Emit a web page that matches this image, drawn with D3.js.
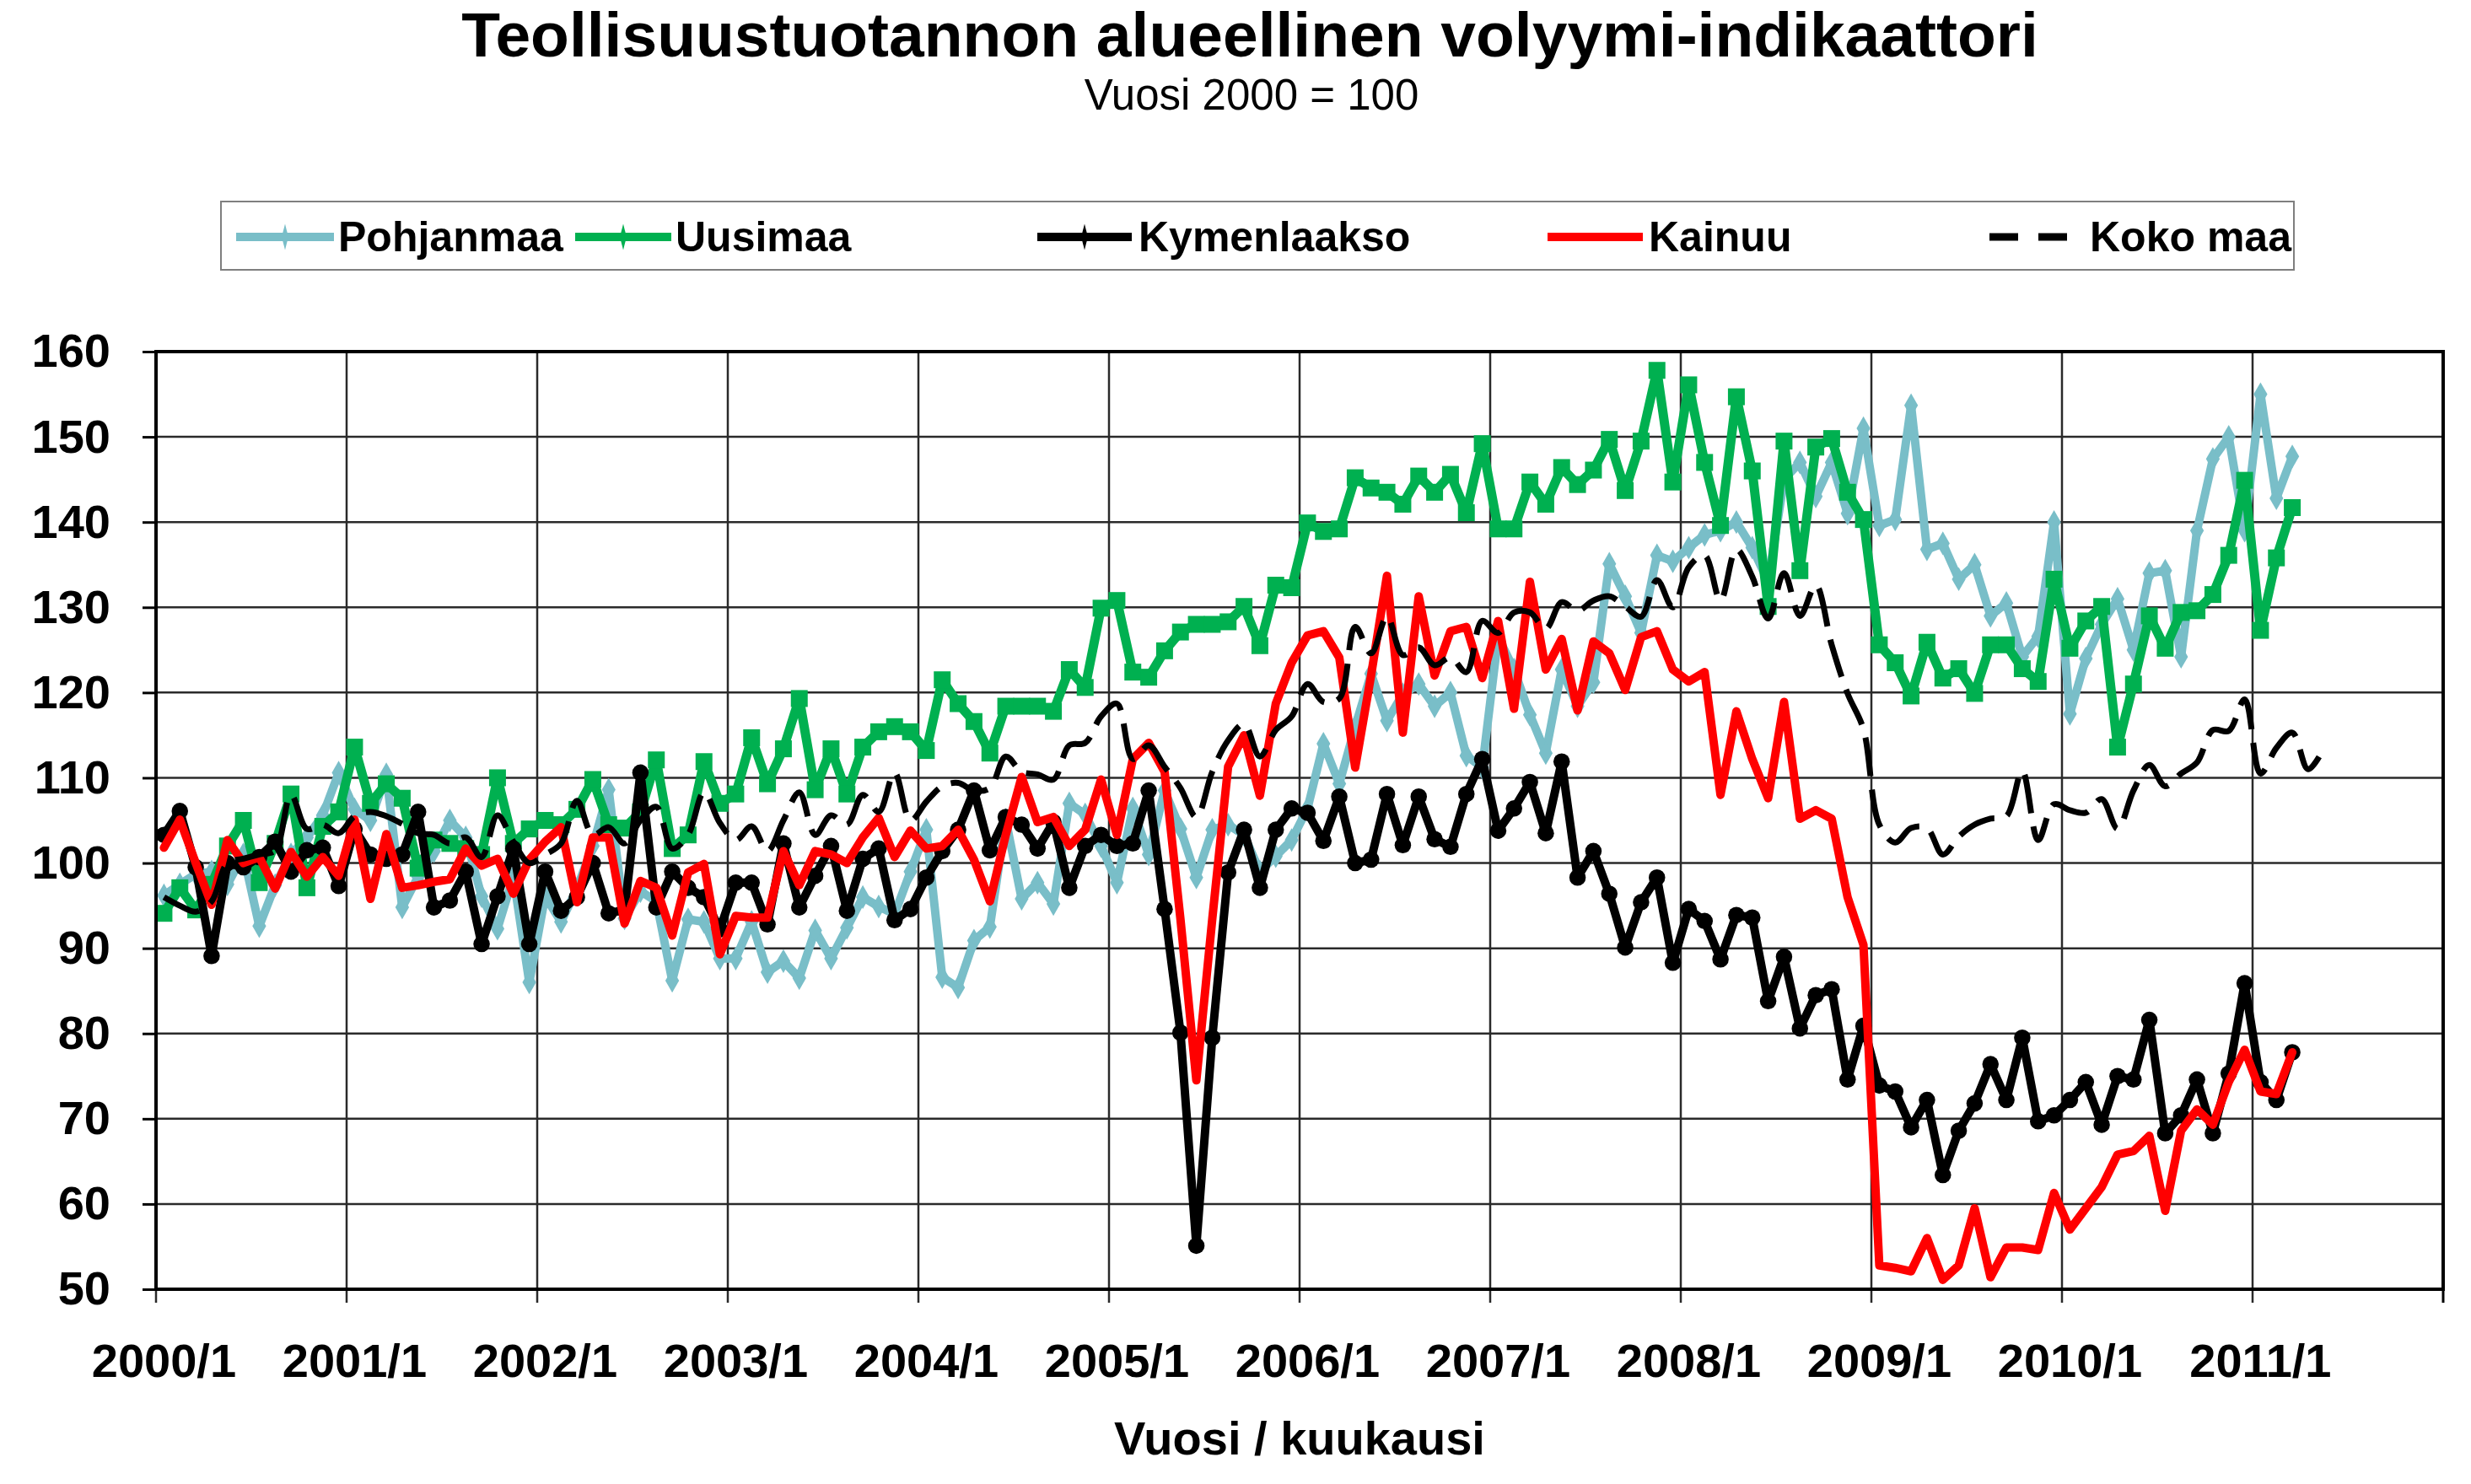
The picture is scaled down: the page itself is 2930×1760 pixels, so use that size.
<!DOCTYPE html>
<html>
<head>
<meta charset="utf-8">
<script src="https://cdn.jsdelivr.net/npm/d3@7"></script>
<style>
  body { margin: 0; background: #fff; }
  svg { display: block; font-family: "Liberation Sans", Arial, sans-serif; }
</style>
</head>
<body>
<svg id="chart" width="2930" height="1760"></svg>
<script>
// Categories: one per month, 2000/1 .. 2011/12
var years = [2000, 2001, 2002, 2003, 2004, 2005, 2006, 2007, 2008, 2009, 2010, 2011];
var months = [1, 2, 3, 4, 5, 6, 7, 8, 9, 10, 11, 12];
var categories = [];
years.forEach(function (y) { months.forEach(function (m) { categories.push(y + "/" + m); }); });

var yTicks = [50, 60, 70, 80, 90, 100, 110, 120, 130, 140, 150, 160];
var xTickLabels = ["2000/1", "2001/1", "2002/1", "2003/1", "2004/1", "2005/1",
	"2006/1", "2007/1", "2008/1", "2009/1", "2010/1", "2011/1"];

var pohjanmaa = [
	96.2, 97.5, 98.7, 99, 97.5, 101, 92.6, 97.4, 101, 103, 105.6, 110.6,
	106.3, 105, 110.4, 94.8, 98.4, 101.4, 105, 103, 96.1, 92.3, 98.4, 86,
	96.1, 93.1, 97, 102, 108.6, 93.5, 96.7, 95.5, 86.2, 93.4, 93.1, 88.8,
	88.8, 93.1, 87.2, 88.5, 86.5, 92.1, 88.8, 92.4, 96, 94.9, 94, 99,
	103.9, 86.6, 85.4, 90.9, 92.5, 105.1, 95.8, 97.7, 95.2, 107, 105.7, 102,
	97.7, 106.4, 101, 108.5, 104, 98.3, 103.9, 104.5, 103.3, 99, 100.8, 102.7,
	106.4, 114, 109.3, 116, 122.2, 116.7, 119.8, 121, 118.4, 120, 112.6, 111.2,
	126.5, 122.7, 117.4, 112.9, 122.7, 118.4, 121.2, 135.1, 131.3, 127, 136.1, 135.4,
	137, 138.5, 139, 140, 137, 133, 145, 147, 143, 147, 141, 151,
	139.6, 140.3, 153.7, 136.8, 137.5, 133.3, 135, 129, 130.5, 124.2, 126.6, 140,
	117.5, 124, 128, 131, 125, 134, 134.3, 124.2, 139, 147.4, 150, 139,
	155, 142.8, 147.7
];

var uusimaa = [
	94.1, 97.1, 94.5, 97.5, 102, 105, 97.7, 102.3, 108.1, 97.1, 104.3, 106,
	113.6, 107, 109.3, 107.6, 99.4, 102.7, 102.3, 101.7, 101, 110, 102.3, 104,
	105, 104.5, 106.3, 109.8, 104.5, 104.1, 106, 112.1, 101.7, 103.3, 111.9, 107,
	108.1, 114.7, 109.3, 113.4, 119.3, 108.6, 113.4, 108.1, 113.6, 115.4, 116, 115.4,
	113.2, 121.5, 118.7, 116.6, 112.9, 118.4, 118.4, 118.4, 117.8, 122.7, 120.6, 129.9,
	130.8, 122.4, 121.8, 124.9, 127.1, 128, 128, 128.3, 130.1, 125.5, 132.6, 132.3,
	139.9, 138.9, 139.2, 145.2, 144, 143.5, 142.1, 145.4, 143.5, 145.6, 141.1, 149.2,
	139.2, 139.2, 144.7, 142.1, 146.4, 144.4, 146.1, 149.7, 143.7, 149.5, 157.8, 144.7,
	156.1, 147, 139.6, 154.7, 146, 130.1, 149.5, 134.3, 148.8, 149.8, 143.5, 140.3,
	125.6, 123.5, 119.6, 125.9, 121.7, 122.8, 119.9, 125.6, 125.6, 122.8, 121.3, 133.3,
	125.2, 128.4, 130.1, 113.6, 121, 129, 125.2, 129.4, 129.6, 131.5, 136.1, 144.9,
	127.3, 135.8, 141.7
];

var kymenlaakso = [
	103.3, 106.1, 99.5, 89.1, 100, 99.5, 100.7, 102.5, 99, 101.5, 101.8, 97.3,
	104, 101, 100.5, 101, 106, 94.8, 95.6, 99, 90.5, 96.1, 101.7, 90.5,
	99, 94.4, 96, 100, 94.1, 94.5, 110.6, 94.8, 99, 97.1, 96, 92.2,
	97.7, 97.7, 92.8, 102.3, 94.8, 98.5, 102, 94.4, 100.5, 101.7, 93.3, 94.6,
	98.3, 101.4, 103.9, 108.5, 101.5, 105.4, 104.5, 101.7, 104.8, 97.1, 102, 103.3,
	102, 102.3, 108.5, 94.6, 80.1, 55.1, 79.5, 98.9, 103.9, 97.1, 103.9, 106.4,
	105.9, 102.6, 107.8, 100, 100.4, 108.1, 102.1, 107.8, 102.8, 101.9, 108.1, 112.2,
	103.8, 106.4, 109.5, 103.5, 111.9, 98.3, 101.4, 96.4, 90.1, 95.4, 98.3, 88.3,
	94.6, 93.2, 88.7, 93.9, 93.6, 83.8, 89, 80.6, 84.5, 85.2, 74.6, 80.9,
	73.9, 73.2, 69, 72.2, 63.4, 68.6, 71.8, 76.4, 72.2, 79.5, 69.7, 70.4,
	72.2, 74.3, 69.3, 75, 74.6, 81.6, 68.3, 70.4, 74.6, 68.3, 75.3, 85.9,
	74.3, 72.2, 77.8
];

var kainuu = [
	101.8, 105.1, 100, 95.1, 102.7, 100, 100.7, 97, 101.3, 98.4, 100.7, 98.5,
	105.1, 95.8, 103.4, 97.1, 97.4, 97.8, 98.1, 101.7, 99.7, 100.5, 96.4, 100.4,
	102.5, 104.2, 95.4, 103, 103, 92.9, 97.9, 97.1, 91.5, 98.9, 99.9, 89.3,
	93.8, 93.6, 93.6, 101.4, 97.4, 101.4, 101, 100, 103, 105.3, 100.7, 103.8,
	101.7, 102, 103.9, 100.4, 95.5, 103.3, 110.1, 104.8, 105.4, 102, 103.9, 109.8,
	103.3, 112.2, 114.1, 110.7, 93.4, 74.5, 93.4, 111.3, 115, 107.9, 118.7, 123.5,
	126.7, 127.2, 124.1, 111.2, 122, 133.7, 115.3, 131.3, 122, 127.2, 127.7, 121.7,
	128.4, 118.1, 133, 122.7, 126.3, 117.9, 126, 124.6, 120.3, 126.5, 127.2, 122.7,
	121.3, 122.4, 108, 117.8, 112.2, 107.6, 118.9, 105.2, 106.2, 105.2, 96, 90.4,
	52.8, 52.5, 52.1, 56, 51.1, 52.8, 59.5, 51.4, 54.9, 54.9, 54.6, 61.3,
	57, 59.5, 62, 65.8, 66.2, 68, 59.2, 68.6, 71.1, 69.3, 74.3, 78.1,
	73.2, 72.9, 77.8
];

var kokoMaa = [
	96, 95, 94.3, 95.5, 100, 100.5, 101, 101.5, 108, 104, 104.5, 103.5,
	105.5, 106, 105.5, 104.6, 103.5, 103.3, 102.3, 103, 100.7, 105.6, 102.5, 100,
	101, 102.3, 107.3, 103.3, 104.2, 102.3, 105, 106.6, 101.7, 103.3, 108.3, 104.7,
	102.7, 104.3, 101.4, 105, 108.3, 103.3, 105.6, 104.5, 108, 106, 110.6, 105,
	107.2, 109, 109.4, 108.5, 108.8, 112.5, 110.7, 110.4, 109.8, 113.8, 114.1, 117.2,
	118.7, 112.2, 113.8, 111.3, 108.8, 105.4, 110.7, 114.4, 116.3, 112.5, 115.6, 117.2,
	121, 118.9, 119.3, 127.7, 124.6, 128.9, 124.4, 125.3, 123.2, 124.1, 122.4, 128.4,
	127, 129.4, 129.4, 127.5, 130.6, 129.6, 130.8, 131.3, 130.1, 128.9, 133.2, 130,
	134.7, 136.1, 130.8, 136.8, 133.6, 128.7, 134, 129, 132.6, 125.6, 119.9, 115.7,
	104.5, 102.4, 104.1, 104.1, 101, 103.1, 104.5, 105.2, 105.5, 110.8, 102.7, 106.9,
	106.2, 105.9, 107.5, 104, 108.5, 111.5, 109, 110.5, 111.8, 115.6, 115.5, 119.2,
	110.5, 113.5, 115.3, 111, 113.5
];

var seriesNames = ["Pohjanmaa", "Uusimaa", "Kymenlaakso", "Kainuu", "Koko maa"];

// styling per series
var series = [
	{ name: seriesNames[0], values: pohjanmaa, color: "#79bec8", width: 10, marker: "diamond" },
	{ name: seriesNames[1], values: uusimaa, color: "#00b050", width: 11, marker: "square" },
	{ name: seriesNames[2], values: kymenlaakso, color: "#000", width: 10, marker: "circle" },
	{ name: seriesNames[3], values: kainuu, color: "#ff0000", width: 10, marker: null },
	{ name: seriesNames[4], values: kokoMaa, color: "#000", width: 7, marker: null, dash: "46,16", smooth: true }
];

var svg = d3.select("#chart");
var plot = { left: 185, right: 2897, top: 417, bottom: 1529 };

var x = d3.scaleBand()
	.domain(categories)
	.range([plot.left, plot.right])
	.padding(0);

var y = d3.scaleLinear()
	.domain([50, 160])
	.range([plot.bottom, plot.top]);

function cx(i) { return x(categories[i]) + x.bandwidth() / 2; }

// Titles
svg.append("text")
	.attr("x", 1482).attr("y", 67)
	.attr("text-anchor", "middle")
	.style("font-size", "75px").style("font-weight", "bold")
	.text("Teollisuustuotannon alueellinen volyymi-indikaattori");

svg.append("text")
	.attr("x", 1484).attr("y", 130)
	.attr("text-anchor", "middle")
	.style("font-size", "51px")
	.text("Vuosi 2000 = 100");

// Horizontal gridlines
svg.append("g")
	.attr("class", "grid-y")
	.selectAll("line")
	.data(yTicks)
	.enter()
	.append("line")
	.attr("x1", plot.left).attr("x2", plot.right)
	.attr("y1", function (d) { return y(d); })
	.attr("y2", function (d) { return y(d); })
	.style("stroke", "#2a2a2a")
	.style("stroke-width", 2.5);

// Vertical gridlines at each year boundary
var yearStarts = categories.filter(function (c) { return c.slice(-2) === "/1"; });
svg.append("g")
	.attr("class", "grid-x")
	.selectAll("line")
	.data(yearStarts)
	.enter()
	.append("line")
	.attr("x1", function (d) { return x(d); })
	.attr("x2", function (d) { return x(d); })
	.attr("y1", plot.top).attr("y2", plot.bottom + 16)
	.style("stroke", "#2a2a2a")
	.style("stroke-width", 2.5);

// Y axis
var yAxis = svg.append("g")
	.attr("transform", "translate(" + plot.left + ",0)")
	.call(d3.axisLeft(y).tickValues(yTicks).tickSize(16).tickPadding(38));
yAxis.select(".domain").remove();
yAxis.selectAll(".tick line").style("stroke", "#000").style("stroke-width", 3);
yAxis.selectAll(".tick text")
	.style("font-size", "56px").style("font-weight", "bold")
	.style("font-family", "Liberation Sans, Arial, sans-serif")
	.attr("fill", "#000");

// X axis labels (every 12th category)
var xAxis = svg.append("g")
	.attr("transform", "translate(0," + plot.bottom + ")")
	.call(d3.axisBottom(x).tickValues(xTickLabels).tickSize(0).tickPadding(64));
xAxis.select(".domain").remove();
xAxis.selectAll(".tick text")
	.style("font-size", "56px").style("font-weight", "bold")
	.style("font-family", "Liberation Sans, Arial, sans-serif")
	.attr("fill", "#000");

// tick at right end
svg.append("line")
	.attr("x1", plot.right).attr("x2", plot.right)
	.attr("y1", plot.bottom).attr("y2", plot.bottom + 16)
	.style("stroke", "#000").style("stroke-width", 3);

svg.append("text")
	.attr("x", (plot.left + plot.right) / 2).attr("y", 1725)
	.attr("text-anchor", "middle")
	.style("font-size", "56px").style("font-weight", "bold")
	.text("Vuosi / kuukausi");

// Series lines
var gLines = svg.append("g").attr("class", "lines");

series.forEach(function (s) {
	var line = d3.line()
		.x(function (d, i) { return cx(i); })
		.y(function (d) { return y(d); })
		.curve(s.smooth ? d3.curveCatmullRom.alpha(0.5) : d3.curveLinear);

	var g = gLines.append("g").attr("class", "series");

	g.append("path")
		.datum(s.values)
		.attr("d", line)
		.style("fill", "none")
		.style("stroke", s.color)
		.style("stroke-width", s.width)
		.style("stroke-linejoin", "round")
		.style("stroke-linecap", s.dash ? "butt" : "round")
		.style("stroke-dasharray", s.dash || null);

	if (s.marker) {
		var sym = s.marker === "square" ? d3.symbolSquare :
			s.marker === "circle" ? d3.symbolCircle : d3.symbolDiamond;
		var size = s.marker === "square" ? 400 : s.marker === "circle" ? 300 : 230;
		g.selectAll("path.marker")
			.data(s.values)
			.enter()
			.append("path")
			.attr("class", "marker")
			.attr("d", d3.symbol().type(sym).size(size))
			.attr("transform", function (d, i) { return "translate(" + cx(i) + "," + y(d) + ")"; })
			.style("fill", s.color);
	}
});

// Plot border
svg.append("rect")
	.attr("x", plot.left).attr("y", plot.top)
	.attr("width", plot.right - plot.left).attr("height", plot.bottom - plot.top)
	.style("fill", "none")
	.style("stroke", "#000")
	.style("stroke-width", 4);

// Legend
var legendBox = { x: 262, y: 239, w: 2458, h: 81 };
var legendPos = [
	{ x1: 280, x2: 396, tx: 401 },
	{ x1: 682, x2: 796, tx: 801 },
	{ x1: 1230, x2: 1342, tx: 1350 },
	{ x1: 1835, x2: 1948, tx: 1955 },
	{ x1: 2359, x2: 2451, tx: 2478 }
];

var legend = svg.append("g").attr("class", "legend");
legend.append("rect")
	.attr("x", legendBox.x).attr("y", legendBox.y)
	.attr("width", legendBox.w).attr("height", legendBox.h)
	.style("fill", "#fff")
	.style("stroke", "#7f7f7f")
	.style("stroke-width", 2);

var items = legend.selectAll("g.item")
	.data(series)
	.enter()
	.append("g")
	.attr("class", "item");

items.append("line")
	.attr("x1", function (d, i) { return legendPos[i].x1; })
	.attr("x2", function (d, i) { return legendPos[i].x2; })
	.attr("y1", 281).attr("y2", 281)
	.style("stroke", function (d) { return d.color; })
	.style("stroke-width", function (d) { return d.dash ? 9 : 10; })
	.style("stroke-dasharray", function (d) { return d.dash ? "34,24" : null; });

items.filter(function (d) { return d.marker; })
	.append("path")
	.attr("d", function (d) {
		return d3.symbol().type(d3.symbolDiamond).size(110)();
	})
	.attr("transform", function (d, i) {
		return "translate(" + (legendPos[i].x1 + legendPos[i].x2) / 2 + ",281) scale(0.7,1.6)";
	})
	.style("fill", function (d) { return d.color; });

items.append("text")
	.attr("x", function (d, i) { return legendPos[i].tx; })
	.attr("y", 298)
	.style("font-size", "50px").style("font-weight", "bold")
	.text(function (d) { return d.name; });
</script>
</body>
</html>
